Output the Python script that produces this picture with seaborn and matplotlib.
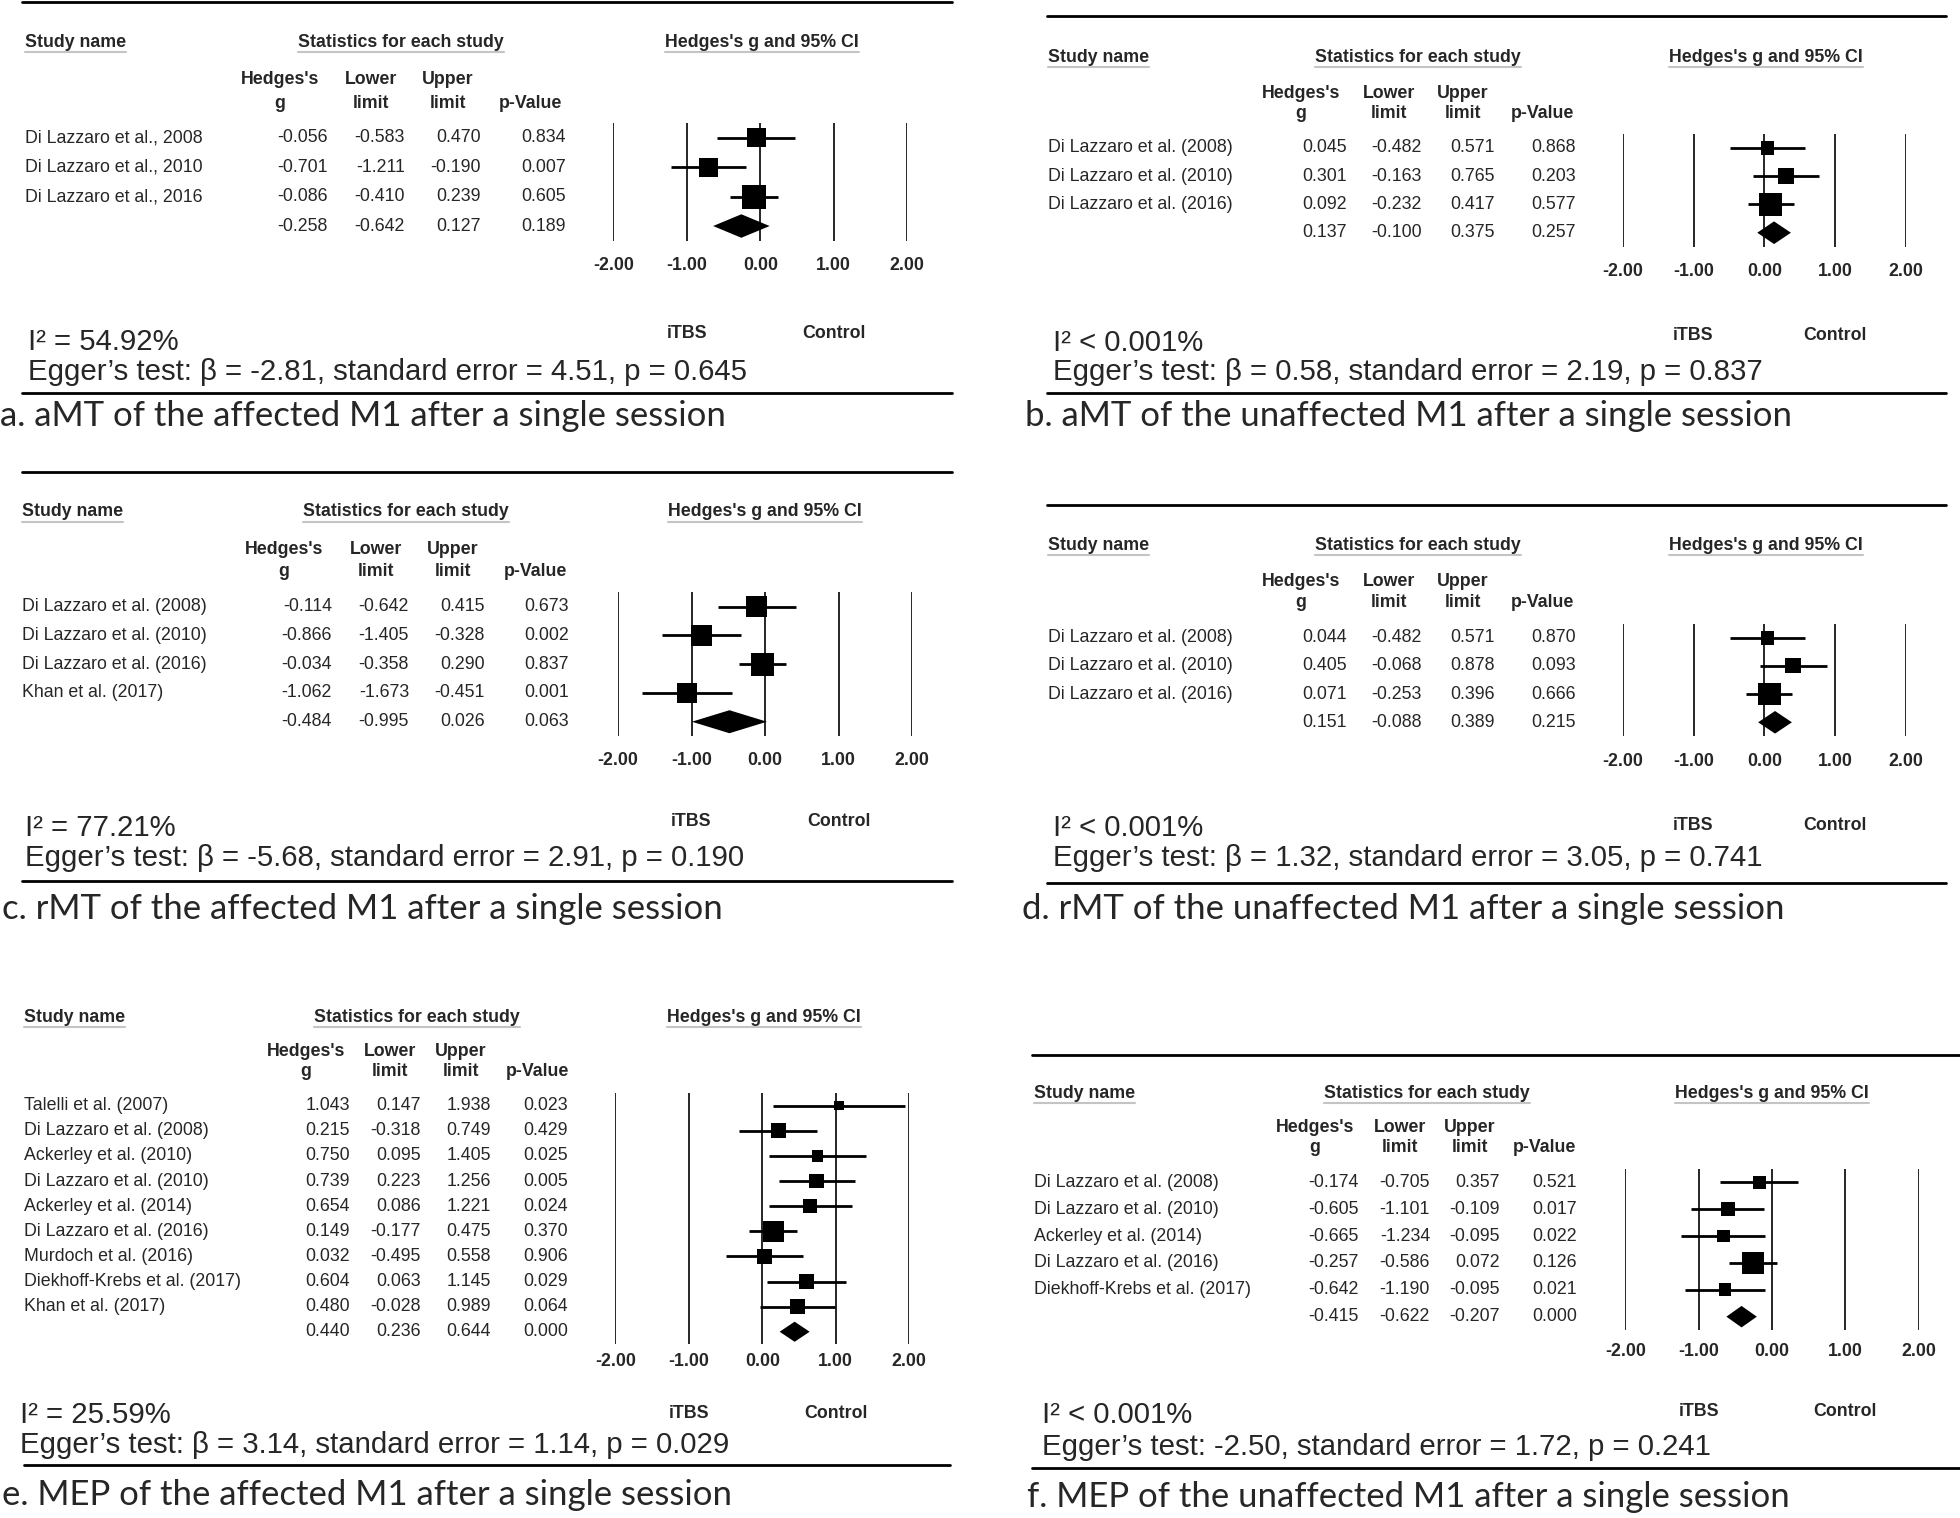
import numpy as np
import pandas as pd
import seaborn as sns
import matplotlib.pyplot as plt
from matplotlib import transforms
from matplotlib.lines import Line2D

W, H = 1960, 1518
TICKS = [-2, -1, 0, 1, 2]

# ---------------- data ----------------
# a. aMT of the affected M1
a_names = ["Di Lazzaro et al., 2008", "Di Lazzaro et al., 2010", "Di Lazzaro et al., 2016"]
a_g = [-0.056, -0.701, -0.086, -0.258]
a_lo = [-0.583, -1.211, -0.410, -0.642]
a_hi = [0.470, -0.190, 0.239, 0.127]
a_p = [0.834, 0.007, 0.605, 0.189]
a_w = [36, 36, 58]
a_i2 = "I² = 54.92%"
a_egger = "Egger’s test: β = -2.81, standard error = 4.51, p = 0.645"
a_title = "a. aMT of the affected M1 after a single session"

# b. aMT of the unaffected M1
b_names = ["Di Lazzaro et al. (2008)", "Di Lazzaro et al. (2010)", "Di Lazzaro et al. (2016)"]
b_g = [0.045, 0.301, 0.092, 0.137]
b_lo = [-0.482, -0.163, -0.232, -0.100]
b_hi = [0.571, 0.765, 0.417, 0.375]
b_p = [0.868, 0.203, 0.577, 0.257]
b_w = [19, 25, 52]
b_i2 = "I² < 0.001%"
b_egger = "Egger’s test: β = 0.58, standard error = 2.19, p = 0.837"
b_title = "b. aMT of the unaffected M1 after a single session"

# c. rMT of the affected M1
c_names = ["Di Lazzaro et al. (2008)", "Di Lazzaro et al. (2010)", "Di Lazzaro et al. (2016)",
           "Khan et al. (2017)"]
c_g = [-0.114, -0.866, -0.034, -1.062, -0.484]
c_lo = [-0.642, -1.405, -0.358, -1.673, -0.995]
c_hi = [0.415, -0.328, 0.290, -0.451, 0.026]
c_p = [0.673, 0.002, 0.837, 0.001, 0.063]
c_w = [43, 44, 53, 40]
c_i2 = "I² = 77.21%"
c_egger = "Egger’s test: β = -5.68, standard error = 2.91, p = 0.190"
c_title = "c. rMT of the affected M1 after a single session"

# d. rMT of the unaffected M1
d_names = ["Di Lazzaro et al. (2008)", "Di Lazzaro et al. (2010)", "Di Lazzaro et al. (2016)"]
d_g = [0.044, 0.405, 0.071, 0.151]
d_lo = [-0.482, -0.068, -0.253, -0.088]
d_hi = [0.571, 0.878, 0.396, 0.389]
d_p = [0.870, 0.093, 0.666, 0.215]
d_w = [19, 23, 50]
d_i2 = "I² < 0.001%"
d_egger = "Egger’s test: β = 1.32, standard error = 3.05, p = 0.741"
d_title = "d. rMT of the unaffected M1 after a single session"

# e. MEP of the affected M1
e_names = ["Talelli et al. (2007)", "Di Lazzaro et al. (2008)", "Ackerley et al. (2010)",
           "Di Lazzaro et al. (2010)", "Ackerley et al. (2014)", "Di Lazzaro et al. (2016)",
           "Murdoch et al. (2016)", "Diekhoff-Krebs et al. (2017)", "Khan et al. (2017)"]
e_g = [1.043, 0.215, 0.750, 0.739, 0.654, 0.149, 0.032, 0.604, 0.480, 0.440]
e_lo = [0.147, -0.318, 0.095, 0.223, 0.086, -0.177, -0.495, 0.063, -0.028, 0.236]
e_hi = [1.938, 0.749, 1.405, 1.256, 1.221, 0.475, 0.558, 1.145, 0.989, 0.644]
e_p = [0.023, 0.429, 0.025, 0.005, 0.024, 0.370, 0.906, 0.029, 0.064, 0.000]
e_w = [9, 22, 14, 22, 20, 43, 22, 22, 23]
e_i2 = "I² = 25.59%"
e_egger = "Egger’s test: β = 3.14, standard error = 1.14, p = 0.029"
e_title = "e. MEP of the affected M1 after a single session"

# f. MEP of the unaffected M1
f_names = ["Di Lazzaro et al. (2008)", "Di Lazzaro et al. (2010)", "Ackerley et al. (2014)",
           "Di Lazzaro et al. (2016)", "Diekhoff-Krebs et al. (2017)"]
f_g = [-0.174, -0.605, -0.665, -0.257, -0.642, -0.415]
f_lo = [-0.705, -1.101, -1.234, -0.586, -1.190, -0.622]
f_hi = [0.357, -0.109, -0.095, 0.072, -0.095, -0.207]
f_p = [0.521, 0.017, 0.022, 0.126, 0.021, 0.000]
f_w = [18, 20, 16, 47, 16]
f_i2 = "I² < 0.001%"
f_egger = "Egger’s test: -2.50, standard error = 1.72, p = 0.241"
f_title = "f. MEP of the unaffected M1 after a single session"

# ---------------- layout (figure pixels) ----------------
layouts = {
    "a": dict(x0=25, stat=401, hg=762, hy=42.5, cols=(280, 371, 448, 531), cy=(80, 103),
              vals=(328, 405, 481, 566), fx=(613.3, 907.3), fy=(123.3, 240.7), pad=11.7,
              lab=333, i2=(28, 342), eg=372, rules=(1.5, 393), rx=(22, 952), cap=(0, 416)),
    "b": dict(x0=1048, stat=1418, hg=1766, hy=57, cols=(1301, 1389, 1463, 1543), cy=(93, 113),
              vals=(1347, 1422, 1495, 1576), fx=(1622.7, 1906), fy=(133.5, 246.9), pad=11.5,
              lab=335, i2=(1053, 343), eg=372, rules=(16, 393), rx=(1047, 1946), cap=(1025, 416)),
    "c": dict(x0=22, stat=406, hg=765, hy=512, cols=(284, 376, 453, 535), cy=(549, 572),
              vals=(332, 409, 485, 569), fx=(618, 912), fy=(592.3, 736.1), pad=11.5,
              lab=822, i2=(25, 828), eg=858, rules=(471.7, 880.7), rx=(22, 952), cap=(2, 909)),
    "d": dict(x0=1048, stat=1418, hg=1766, hy=545, cols=(1301, 1389, 1463, 1543), cy=(582, 603),
              vals=(1347, 1422, 1495, 1576), fx=(1622.7, 1906), fy=(623.6, 736.4), pad=12,
              lab=825, i2=(1053, 828), eg=858, rules=(505, 883.3), rx=(1047, 1946), cap=(1022, 909)),
    "e": dict(x0=24, stat=417, hg=764, hy=1017, cols=(306, 390, 461, 537), cy=(1051, 1072),
              vals=(350, 421, 491, 568), fx=(615.3, 909.3), fy=(1093.1, 1344.3), pad=6.3,
              lab=1413, i2=(20, 1415), eg=1445, rules=(None, 1465), rx=(24, 950), cap=(2, 1495)),
    "f": dict(x0=1034, stat=1427, hg=1772, hy=1093, cols=(1315, 1400, 1470, 1545), cy=(1128, 1148),
              vals=(1359, 1430, 1500, 1577), fx=(1625.3, 1918.7), fy=(1168.9, 1330.1), pad=9.4,
              lab=1411, i2=(1042, 1415), eg=1447, rules=(1055, 1468.3), rx=(1032, 1960), cap=(1027, 1497)),
}

TABLE_FS = 12.8
STAT_FS = 21.2
CAP_FS = 25

sns.set_theme(style="white")
plt.rcParams["font.family"] = ["Liberation Sans", "DejaVu Sans"]

fig = plt.figure(figsize=(W / 100, H / 100), dpi=100)
underlined = []


def fy(y):
    return 1 - y / H


def draw_panel(names, g, lo, hi, p, w, i2, egger, title, L):
    n = len(names)
    x0, x1 = L["fx"]
    top, bot = L["fy"]
    ax = fig.add_axes([x0 / W, fy(bot), (x1 - x0) / W, (bot - top) / H])
    ax.set_facecolor("none")

    df = pd.DataFrame({"g": g[:n], "lo": lo[:n], "hi": hi[:n], "w": w, "row": np.arange(n)})
    for t in TICKS:
        ax.axvline(t, color="#262626", lw=1.4, zorder=1)
    ax.hlines(df["row"], df["lo"], df["hi"], color="black", lw=2.0, zorder=2)
    sns.scatterplot(data=df, x="g", y="row", size="w", sizes=(0, 518.4), size_norm=(0, 100),
                    marker="s", color="black", linewidth=0, legend=False, ax=ax, zorder=3,
                    clip_on=False)
    # pooled estimate diamond
    ax.fill([lo[n], g[n], hi[n], g[n]], [n, n - 0.4, n, n + 0.4], color="black", lw=0, zorder=3)

    ax.set_xlim(-2, 2)
    ax.set_ylim(n + 0.5, -0.5)
    ax.set(xlabel="", ylabel="")
    ax.set_yticks([])
    ax.set_xticks(TICKS)
    ax.set_xticklabels([f"{t:.2f}" for t in TICKS], fontweight="bold", fontsize=TABLE_FS)
    ax.tick_params(axis="x", length=0, pad=L["pad"])
    for s in ax.spines.values():
        s.set_visible(False)

    # group headers
    hb = dict(fontsize=TABLE_FS, fontweight="bold", va="center")
    underlined.append(fig.text(L["x0"] / W, fy(L["hy"]), "Study name", ha="left", **hb))
    underlined.append(fig.text(L["stat"] / W, fy(L["hy"]), "Statistics for each study", ha="center", **hb))
    underlined.append(fig.text(L["hg"] / W, fy(L["hy"]), "Hedges's g and 95% CI", ha="center", **hb))
    for cx, (l1, l2) in zip(L["cols"], [("Hedges's", "g"), ("Lower", "limit"), ("Upper", "limit"), ("", "p-Value")]):
        if l1:
            fig.text(cx / W, fy(L["cy"][0]), l1, ha="center", **hb)
        fig.text(cx / W, fy(L["cy"][1]), l2, ha="center", **hb)

    # table rows aligned to the forest rows
    trans = transforms.blended_transform_factory(fig.transFigure, ax.transData)
    for i, name in enumerate(names):
        fig.text(L["x0"] / W, i, name, transform=trans, ha="left", va="center", fontsize=TABLE_FS)
    for j, col in enumerate([g, lo, hi, p]):
        for i, v in enumerate(col):
            fig.text(L["vals"][j] / W, i, f"{v:.3f}", transform=trans, ha="right", va="center",
                     fontsize=TABLE_FS)

    # favours labels
    trans2 = transforms.blended_transform_factory(ax.transData, fig.transFigure)
    for xv, lab in [(-1, "iTBS"), (1, "Control")]:
        fig.text(xv, fy(L["lab"]), lab, transform=trans2, ha="center", va="center",
                 fontsize=TABLE_FS, fontweight="bold")

    # heterogeneity / Egger
    fig.text(L["i2"][0] / W, fy(L["i2"][1]), i2, ha="left", va="center", fontsize=STAT_FS)
    fig.text(L["i2"][0] / W, fy(L["eg"]), egger, ha="left", va="center", fontsize=STAT_FS)

    # rules
    rx0, rx1 = L["rx"]
    for ry in L["rules"]:
        if ry is None:
            continue
        fig.add_artist(Line2D([rx0 / W, rx1 / W], [fy(ry), fy(ry)], transform=fig.transFigure,
                              color="black", lw=2.0))

    # caption
    fig.text(L["cap"][0] / W, fy(L["cap"][1]), title, ha="left", va="center",
             fontsize=CAP_FS, family=["Lato", "DejaVu Sans"])


draw_panel(a_names, a_g, a_lo, a_hi, a_p, a_w, a_i2, a_egger, a_title, layouts["a"])
draw_panel(b_names, b_g, b_lo, b_hi, b_p, b_w, b_i2, b_egger, b_title, layouts["b"])
draw_panel(c_names, c_g, c_lo, c_hi, c_p, c_w, c_i2, c_egger, c_title, layouts["c"])
draw_panel(d_names, d_g, d_lo, d_hi, d_p, d_w, d_i2, d_egger, d_title, layouts["d"])
draw_panel(e_names, e_g, e_lo, e_hi, e_p, e_w, e_i2, e_egger, e_title, layouts["e"])
draw_panel(f_names, f_g, f_lo, f_hi, f_p, f_w, f_i2, f_egger, f_title, layouts["f"])

# light grey underline under the group headers
fig.canvas.draw()
r = fig.canvas.get_renderer()
for t in underlined:
    bb = t.get_window_extent(r)
    yy = (bb.y0 - 1) / H
    fig.add_artist(Line2D([bb.x0 / W, bb.x1 / W], [yy, yy], transform=fig.transFigure,
                          color="#c4c4c4", lw=1.5))

fig.savefig("out.png", dpi=100, facecolor="white")
